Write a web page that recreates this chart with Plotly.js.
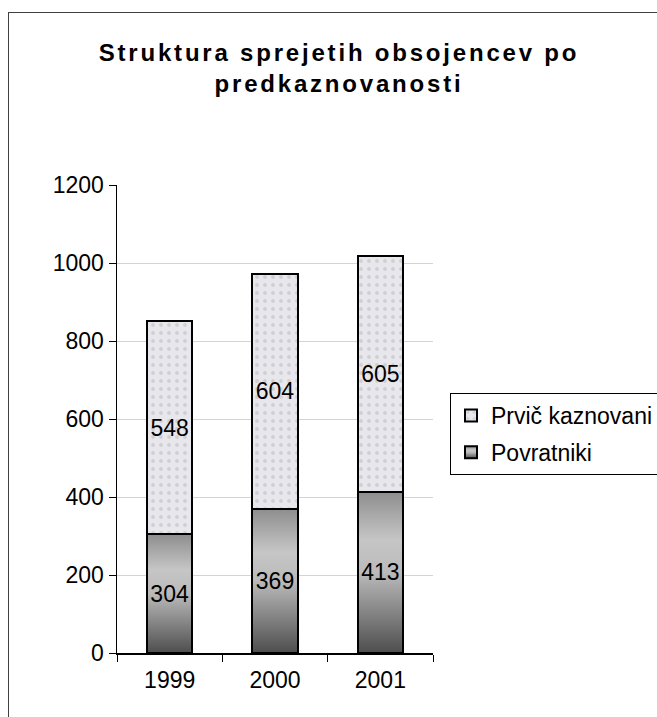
<!DOCTYPE html>
<html>
<head>
<meta charset="utf-8">
<script src="https://cdn.plot.ly/plotly-3.0.1.min.js"></script>
<style>
  html, body { margin: 0; padding: 0; background: #fff; overflow: hidden; }
  #wrap { position: relative; width: 657px; height: 717px; overflow: hidden; }
  #chart { position: absolute; left: 0; top: 0; width: 657px; height: 717px; }
  #frame { position: absolute; left: 8px; top: 12px; width: 720px; height: 760px;
           border: 1.5px solid #404040; pointer-events: none; }
  #chart .gtitle { letter-spacing: 2.8px; }
</style>
</head>
<body>
<div id="wrap">
  <div id="chart"></div>
  <div id="frame"></div>
</div>
<script>
const years = ['1999', '2000', '2001'];
const povratniki = [304, 369, 413];
const prvicKaznovani = [548, 604, 605];
const seriesNames = ['Povratniki', 'Prvič kaznovani'];
const yTicks = [0, 200, 400, 600, 800, 1000, 1200];
const titleText = 'Struktura sprejetih obsojencev po<br>predkaznovanosti';

const FONT = "'Liberation Sans', Arial, sans-serif";

const traces = [
  {
    type: 'bar', name: seriesNames[0], legendgroup: 'a', legendrank: 2, x: years, y: povratniki,
    text: povratniki.map(String), textposition: 'inside', insidetextanchor: 'middle',
    textangle: 0, constraintext: 'none',
    textfont: { family: FONT, size: 23, color: '#000' },
    marker: { color: '#a0a0a0', line: { color: '#000', width: 2 } },
    hoverinfo: 'none'
  },
  {
    type: 'bar', name: seriesNames[1], legendgroup: 'b', legendrank: 1, x: years, y: prvicKaznovani,
    text: prvicKaznovani.map(String), textposition: 'inside', insidetextanchor: 'middle',
    textangle: 0, constraintext: 'none',
    textfont: { family: FONT, size: 23, color: '#000' },
    marker: {
      color: '#e6e6ea', line: { color: '#000', width: 2 },
      pattern: { shape: '.', fgcolor: '#cfcfd6', bgcolor: '#e8e8ec', size: 8, solidity: 0.18, fillmode: 'replace' }
    },
    hoverinfo: 'none'
  }
];

const layout = {
  width: 657, height: 717,
  paper_bgcolor: 'rgba(0,0,0,0)', plot_bgcolor: '#fff',
  margin: { l: 117, r: 224, t: 185, b: 64, autoexpand: false },
  barmode: 'stack', bargap: 0.57,
  font: { family: FONT, size: 23, color: '#000' },
  title: {
    text: titleText,
    font: { family: FONT, size: 24, color: '#000', weight: 'bold' },
    x: 339 / 657, xref: 'container', xanchor: 'center',
    y: 1 - 61 / 717, yref: 'container', yanchor: 'top'
  },
  xaxis: {
    type: 'category', tickson: 'boundaries', ticks: 'outside', ticklen: 7, tickcolor: '#000',
    showline: true, linecolor: '#000', linewidth: 1.5, ticklabelstandoff: 6,
    tickfont: { family: FONT, size: 23, color: '#000' },
    showgrid: false, fixedrange: true
  },
  yaxis: {
    range: [0, 1200], tickvals: yTicks, ticktext: yTicks.map(String),
    ticks: 'outside', ticklen: 7, tickcolor: '#000',
    showline: true, linecolor: '#000', linewidth: 1.5,
    showgrid: true, gridcolor: '#d4d4d4', gridwidth: 1, zeroline: false,
    tickfont: { family: FONT, size: 23, color: '#000' },
    fixedrange: true
  },
  showlegend: true,
  legend: {
    x: (450 - 117) / 316, xanchor: 'left', y: (653 - 393) / 468, yanchor: 'top',
    bordercolor: '#000', borderwidth: 1, bgcolor: '#fff',
    traceorder: 'grouped',
    font: { family: FONT, size: 23, color: '#000' },
    itemwidth: 30, tracegroupgap: 4
  }
};

Plotly.newPlot('chart', traces, layout, { displayModeBar: false, staticPlot: true }).then(function (gd) {
  // vertical shading of the "Povratniki" bars, as in the reference
  const svg = gd.querySelector('svg.main-svg');
  const NS = 'http://www.w3.org/2000/svg';
  let defs = svg.querySelector('defs');
  if (!defs) { defs = document.createElementNS(NS, 'defs'); svg.insertBefore(defs, svg.firstChild); }
  const grad = document.createElementNS(NS, 'linearGradient');
  grad.setAttribute('id', 'povGrad');
  grad.setAttribute('x1', '0'); grad.setAttribute('y1', '0');
  grad.setAttribute('x2', '0'); grad.setAttribute('y2', '1');
  [['0', '#8e8e8e'], ['0.3', '#c6c6c6'], ['0.5', '#bababa'], ['1', '#4e4e4e']].forEach(function (s) {
    const st = document.createElementNS(NS, 'stop');
    st.setAttribute('offset', s[0]); st.setAttribute('stop-color', s[1]);
    grad.appendChild(st);
  });
  defs.appendChild(grad);
  const barTraces = gd.querySelectorAll('.barlayer .trace.bars');
  if (barTraces.length) {
    barTraces[0].querySelectorAll('.point path').forEach(function (p) { p.style.fill = 'url(#povGrad)'; });
  }
  gd.querySelectorAll('.legend .traces').forEach(function (it) {
    const t = it.querySelector('.legendtext');
    if (t && t.textContent === seriesNames[0]) {
      it.querySelectorAll('.legendpoints path').forEach(function (p) { p.style.fill = 'url(#povGrad)'; });
    }
  });
});
</script>
</body>
</html>
